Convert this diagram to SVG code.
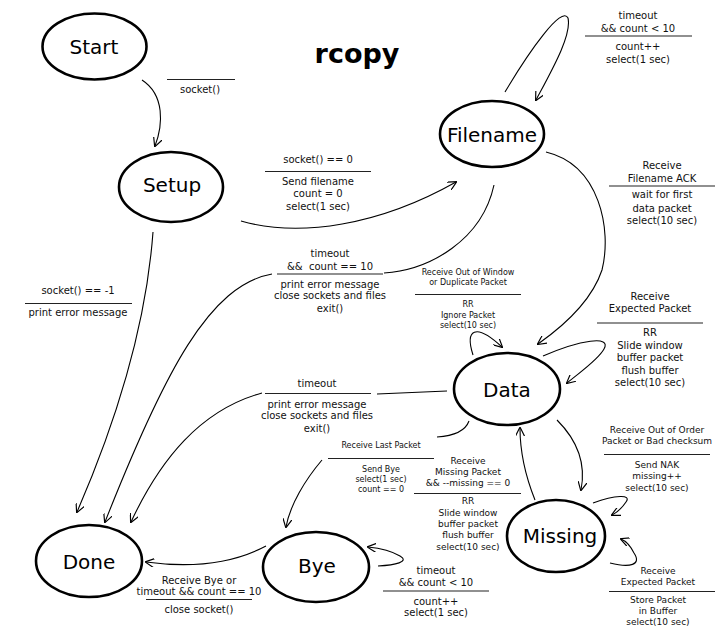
<svg xmlns="http://www.w3.org/2000/svg" width="720" height="630" viewBox="0 0 720 630">
<defs>
<marker id="arr" viewBox="0 0 10 10" refX="9" refY="5" markerWidth="9" markerHeight="9" markerUnits="userSpaceOnUse" orient="auto">
<path d="M0,0 L10,5 L0,10" fill="none" stroke="#000" stroke-width="1.3"/>
</marker>
<style>
.node ellipse{fill:#fff;stroke:#000;stroke-width:2.6}
.node text{font-family:"DejaVu Sans",sans-serif;font-size:20px;text-anchor:middle;fill:#000}
.c{fill:none;stroke:#000;stroke-width:1.1}
.a{marker-end:url(#arr)}
.lbl text{font-family:"DejaVu Sans",sans-serif;font-size:10px;text-anchor:middle;fill:#111}
.lbl.s text{font-size:8px}
.lbl.m text{font-size:9px}
.lbl line{stroke:#222;stroke-width:1.1}
.title{font-family:"DejaVu Sans",sans-serif;font-size:27px;font-weight:bold;text-anchor:middle}
</style>
</defs>
<rect width="720" height="630" fill="#fff"/>
<text class="title" x="357" y="63">rcopy</text>

<g id="connectors">
<path class="c a" d="M142,80 C165,95 163,125 155,146"/>
<path class="c a" d="M241,221 C300,238 380,225 456,182"/>
<path class="c a" d="M505,92 C530,50 562,5 568,18 C572,35 552,70 536,100"/>
<path class="c a" d="M546,152 C600,165 612,230 602,270 C592,300 565,325 538,344"/>
<path class="c" d="M494,185 C482,240 430,270 384,273"/>
<path class="c a" d="M272,274 C210,285 165,370 105,522"/>
<path class="c a" d="M153,232 C148,300 130,390 77,512"/>
<path class="c" d="M447,391 L377,394"/>
<path class="c a" d="M262,393 C200,410 160,460 131,522"/>
<path class="c a" d="M473,355 C465,330 475,322 502,347"/>
<path class="c a" d="M543,356 C580,340 612,335 604,349 C598,360 580,372 567,383"/>
<path class="c" d="M469,421 C465,432 452,436 437,437"/>
<path class="c a" d="M322,460 C305,480 290,505 286,527"/>
<path class="c a" d="M535,500 C525,475 520,450 520,428"/>
<path class="c a" d="M557,420 C575,438 587,460 581,490"/>
<path class="c a" d="M593,503 C615,495 632,494 626,502 C622,508 618,512 612,515"/>
<path class="c a" d="M610,563 C630,568 642,565 634,553 C630,545 626,541 621,539"/>
<path class="c a" d="M378,566 C395,565 410,562 400,556 C390,550 378,548 368,547"/>
<path class="c a" d="M266,546 C230,565 190,568 146,562"/>
</g>

<g id="node-start" class="node"><ellipse cx="94.5" cy="46.5" rx="52" ry="33"/><text x="94" y="54">Start</text></g>
<g id="node-setup" class="node"><ellipse cx="171" cy="187" rx="52" ry="35"/><text x="172" y="192">Setup</text></g>
<g id="node-filename" class="node"><ellipse cx="492" cy="134" rx="52" ry="33"/><text x="492" y="142">Filename</text></g>
<g id="node-data" class="node"><ellipse cx="507" cy="389" rx="53" ry="36"/><text x="507" y="397">Data</text></g>
<g id="node-missing" class="node"><ellipse cx="556" cy="536" rx="49" ry="36"/><text x="560" y="543">Missing</text></g>
<g id="node-done" class="node"><ellipse cx="89" cy="561" rx="53" ry="36"/><text x="89" y="569">Done</text></g>
<g id="node-bye" class="node"><ellipse cx="316" cy="567" rx="53" ry="35"/><text x="317" y="573">Bye</text></g>

<g id="labels">
<g class="lbl"><line x1="167" y1="79.5" x2="235" y2="79.5"/><text x="200" y="93">socket()</text></g>
<g class="lbl"><text x="318" y="163">socket() == 0</text><line x1="265" y1="171.5" x2="371" y2="171.5"/><text x="318" y="185">Send filename</text><text x="318" y="197">count = 0</text><text x="318" y="209.5">select(1 sec)</text></g>
<g class="lbl"><text x="330" y="257">timeout</text><text x="330" y="269.5" xml:space="preserve">&amp;&amp;  count == 10</text><line x1="277" y1="274" x2="383" y2="274"/><text x="330" y="288">print error message</text><text x="330" y="299">close sockets and files</text><text x="330" y="311.5">exit()</text></g>
<g class="lbl"><text x="78" y="294">socket() == -1</text><line x1="25" y1="303.5" x2="132" y2="303.5"/><text x="78" y="316">print error message</text></g>
<g class="lbl"><text x="638" y="18.5">timeout</text><text x="638" y="32">&amp;&amp; count &lt; 10</text><line x1="585" y1="36" x2="692" y2="36"/><text x="638" y="50">count++</text><text x="638" y="63">select(1 sec)</text></g>
<g class="lbl"><text x="662" y="168.5">Receive</text><text x="662" y="182">Filename ACK</text><line x1="609" y1="186" x2="715" y2="186"/><text x="662" y="198">wait for first</text><text x="662" y="212">data packet</text><text x="662" y="224">select(10 sec)</text></g>
<g class="lbl s"><text x="468" y="275">Receive Out of Window</text><text x="468" y="285">or Duplicate Packet</text><line x1="415" y1="294.5" x2="521" y2="294.5"/><text x="468" y="307">RR</text><text x="468" y="318">Ignore Packet</text><text x="468" y="328">select(10 sec)</text></g>
<g class="lbl"><text x="650" y="299.5">Receive</text><text x="650" y="312">Expected Packet</text><line x1="597" y1="323" x2="703" y2="323"/><text x="650" y="336">RR</text><text x="650" y="348.5">Slide window</text><text x="650" y="361">buffer packet</text><text x="650" y="373.5">flush buffer</text><text x="650" y="386">select(10 sec)</text></g>
<g class="lbl"><text x="317" y="387">timeout</text><line x1="265" y1="393.5" x2="371" y2="393.5"/><text x="317" y="407.5">print error message</text><text x="317" y="418.5">close sockets and files</text><text x="317" y="432">exit()</text></g>
<g class="lbl s"><text x="381" y="448">Receive Last Packet</text><line x1="328" y1="458.5" x2="434" y2="458.5"/><text x="381" y="472">Send Bye</text><text x="381" y="482">select(1 sec)</text><text x="381" y="492">count == 0</text></g>
<g class="lbl m"><text x="468" y="464">Receive</text><text x="468" y="475">Missing Packet</text><text x="468" y="486">&amp;&amp; --missing == 0</text><line x1="414" y1="493.5" x2="521" y2="493.5"/><text x="468" y="504">RR</text><text x="468" y="515.5">Slide window</text><text x="468" y="527">buffer packet</text><text x="468" y="538">flush buffer</text><text x="468" y="550">select(10 sec)</text></g>
<g class="lbl m"><text x="657" y="432.5">Receive Out of Order</text><text x="657" y="444">Packet or Bad checksum</text><line x1="604" y1="454.5" x2="710" y2="454.5"/><text x="657" y="467.5">Send NAK</text><text x="657" y="479">missing++</text><text x="657" y="490.5">select(10 sec)</text></g>
<g class="lbl m"><text x="658" y="574">Receive</text><text x="658" y="585">Expected Packet</text><line x1="609" y1="591.5" x2="715" y2="591.5"/><text x="658" y="603">Store Packet</text><text x="658" y="614">in Buffer</text><text x="658" y="625">select(10 sec)</text></g>
<g class="lbl"><text x="436" y="574">timeout</text><text x="436" y="586">&amp;&amp; count &lt; 10</text><line x1="383" y1="591" x2="489" y2="591"/><text x="436" y="604.5">count++</text><text x="436" y="616">select(1 sec)</text></g>
<g class="lbl"><text x="199" y="583.5">Receive Bye or</text><text x="199" y="595">timeout &amp;&amp; count == 10</text><line x1="146" y1="599.5" x2="252" y2="599.5"/><text x="199" y="613">close socket()</text></g>
</g>
</svg>
